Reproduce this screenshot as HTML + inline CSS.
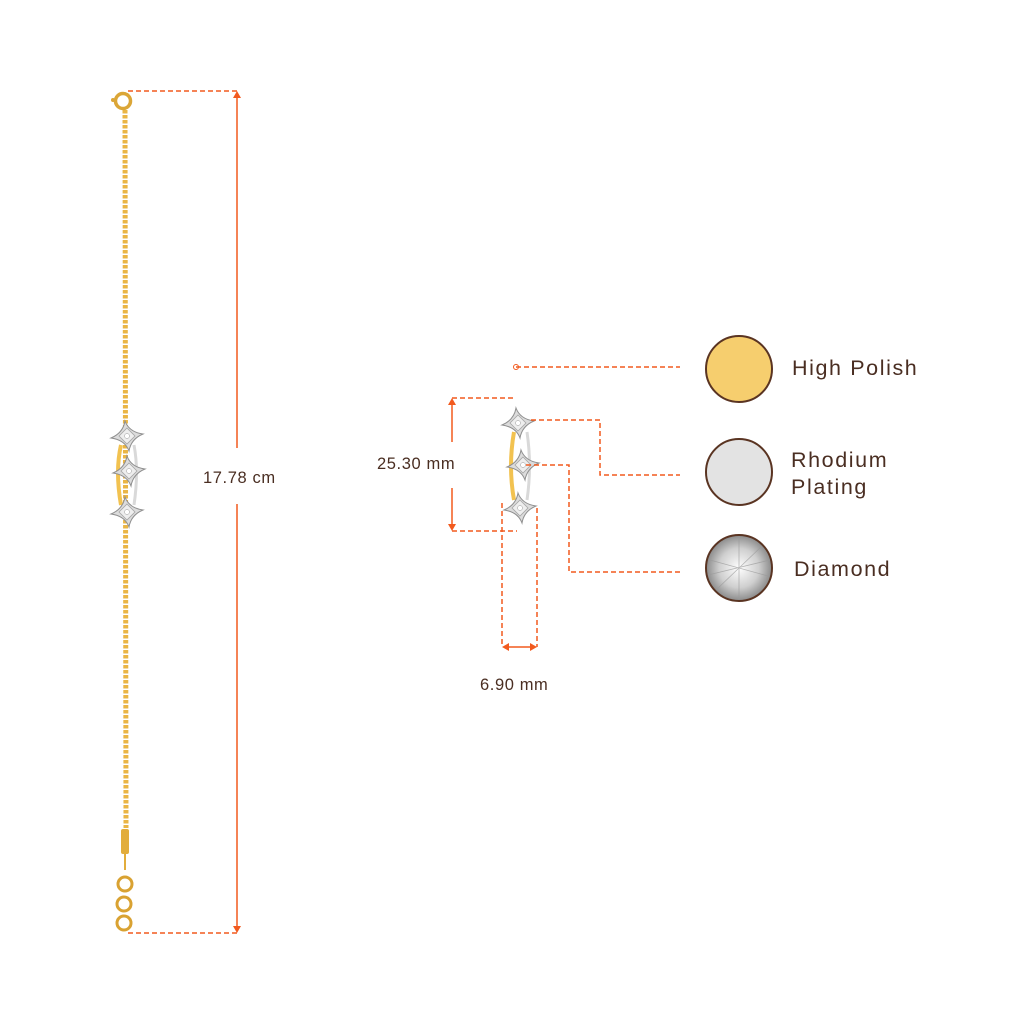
<!DOCTYPE html>
<html><head><meta charset="utf-8"><style>
html,body{margin:0;padding:0;background:#fff;}
svg{display:block}
text{font-family:"Liberation Sans",sans-serif;fill:#4a2e22;}
</style></head><body>
<svg width="1024" height="1024" viewBox="0 0 1024 1024" xmlns="http://www.w3.org/2000/svg">
<defs>
<linearGradient id="fadeT" x1="0" y1="0" x2="0" y2="1">
<stop offset="0" stop-color="#f4c878" stop-opacity="0"/><stop offset="1" stop-color="#f0bf60"/></linearGradient>
<linearGradient id="fadeB" x1="0" y1="0" x2="0" y2="1">
<stop offset="0" stop-color="#f0bf60"/><stop offset="1" stop-color="#f4c878" stop-opacity="0"/></linearGradient>
<radialGradient id="dia" cx="0.5" cy="0.5" r="0.5">
<stop offset="0" stop-color="#ffffff"/><stop offset="0.6" stop-color="#cfcfcf"/><stop offset="1" stop-color="#8a8a8a"/></radialGradient>
<g id="star">
<path d="M-2,-15 Q2,-4 16,-2 Q4,3 2,15 Q-2,4 -16,2 Q-4,-3 -2,-15Z" fill="#dcdcdc" stroke="#8f8f8f" stroke-width="1"/>
<path d="M0,-8 L8,0 L0,8 L-8,0Z" fill="#eeeeee" stroke="#a5a5a5" stroke-width="0.8"/>
<circle r="2.5" fill="#fff" stroke="#999" stroke-width="0.5"/>
</g>
</defs>

<!-- left bracelet chain -->
<line x1="125" y1="110" x2="126" y2="828" stroke="#eab545" stroke-width="5" stroke-dasharray="3.5 1.5"/>
<circle cx="123" cy="101" r="7.5" fill="none" stroke="#dba637" stroke-width="3.5"/>
<circle cx="113" cy="100" r="2" fill="#dba637"/>
<path d="M121,445 Q115,471 121,505" fill="none" stroke="#f2c250" stroke-width="4"/>
<path d="M134,445 Q139,471 134,505" fill="none" stroke="#d9d9d9" stroke-width="3"/>
<use href="#star" transform="translate(127,436)"/>
<use href="#star" transform="translate(129,471)"/>
<use href="#star" transform="translate(127,512)"/>
<rect x="121" y="829" width="8" height="25" rx="2" fill="#e2ad3c"/>
<line x1="125" y1="854" x2="125" y2="870" stroke="#e2ad3c" stroke-width="2"/>
<circle cx="125" cy="884" r="7" fill="none" stroke="#d9a232" stroke-width="3"/>
<circle cx="124" cy="904" r="7" fill="none" stroke="#d9a232" stroke-width="3"/>
<circle cx="124" cy="923" r="7" fill="none" stroke="#d9a232" stroke-width="3"/>

<!-- left dimension -->
<g stroke="#f25a1e" stroke-width="1.5" fill="none">
<line x1="128" y1="91" x2="237" y2="91" stroke-dasharray="5 3"/>
<line x1="128" y1="933" x2="237" y2="933" stroke-dasharray="5 3"/>
<line x1="237" y1="94" x2="237" y2="448"/>
<line x1="237" y1="504" x2="237" y2="930"/>
</g>
<path d="M233,98 L237,91 L241,98Z M233,926 L237,933 L241,926Z" fill="#f25a1e"/>
<text x="203" y="483" font-size="16.5" letter-spacing="0.6">17.78 cm</text>

<!-- middle pendant -->
<line x1="516" y1="320" x2="516" y2="400" stroke="url(#fadeT)" stroke-width="5" stroke-dasharray="3.5 1.5"/>
<line x1="517" y1="522" x2="517" y2="605" stroke="url(#fadeB)" stroke-width="5" stroke-dasharray="3.5 1.5"/>
<path d="M514,432 Q508,466 514,500" fill="none" stroke="#f2c250" stroke-width="4"/>
<path d="M527,432 Q532,466 527,500" fill="none" stroke="#d9d9d9" stroke-width="3"/>
<use href="#star" transform="translate(518,423)"/>
<use href="#star" transform="translate(523,465)"/>
<use href="#star" transform="translate(520,508)"/>

<g stroke="#f25a1e" stroke-width="1.5" fill="none" stroke-dasharray="5 3">
<line x1="516" y1="367" x2="680" y2="367"/>
<polyline points="531,420 600,420 600,475 680,475"/>
<polyline points="526,465 569,465 569,572 680,572"/>
<line x1="452" y1="398" x2="515" y2="398"/>
<line x1="452" y1="531" x2="517" y2="531"/>
<line x1="502" y1="503" x2="502" y2="647"/>
<line x1="537" y1="508" x2="537" y2="647"/>
</g>
<circle cx="516" cy="367" r="2.5" fill="none" stroke="#f25a1e" stroke-width="1"/>
<g stroke="#f25a1e" stroke-width="1.5">
<line x1="452" y1="401" x2="452" y2="442"/>
<line x1="452" y1="488" x2="452" y2="528"/>
<line x1="505" y1="647" x2="534" y2="647"/>
</g>
<path d="M448,405 L452,398 L456,405Z M448,524 L452,531 L456,524Z M509,643 L502,647 L509,651Z M530,643 L537,647 L530,651Z" fill="#f25a1e"/>
<text x="377" y="469" font-size="16.5" letter-spacing="0.6">25.30 mm</text>
<text x="480" y="690" font-size="16.5" letter-spacing="0.6">6.90 mm</text>

<!-- legend -->
<circle cx="739" cy="369" r="33" fill="#f6ce6e" stroke="#5a3422" stroke-width="2"/>
<circle cx="739" cy="472" r="33" fill="#e3e3e3" stroke="#5a3422" stroke-width="2"/>
<circle cx="739" cy="568" r="33" fill="url(#dia)" stroke="#5a3422" stroke-width="2"/>
<g stroke="#9a9a9a" stroke-width="0.8" opacity="0.7">
<line x1="710" y1="560" x2="768" y2="576"/><line x1="716" y1="590" x2="762" y2="546"/>
<line x1="739" y1="537" x2="739" y2="599"/><line x1="708" y1="575" x2="770" y2="560"/>
</g>
<text x="792" y="375" font-size="21.5" letter-spacing="1.6">High Polish</text>
<text x="791" y="467" font-size="21.5" letter-spacing="1.6">Rhodium</text>
<text x="791" y="494" font-size="21.5" letter-spacing="1.6">Plating</text>
<text x="794" y="576" font-size="21.5" letter-spacing="1.6">Diamond</text>
</svg>
</body></html>
